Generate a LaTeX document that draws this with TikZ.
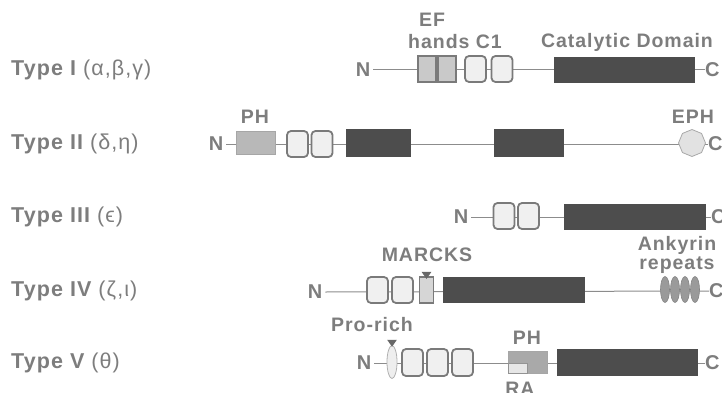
\documentclass[tikz,border=0pt]{standalone}
\usepackage{fontspec}
\setmainfont{Liberation Sans}
\usetikzlibrary{shapes.geometric,backgrounds}
\definecolor{txt}{HTML}{7D7D7D}
\definecolor{linegray}{HTML}{8C8C8C}
\definecolor{boxedge}{HTML}{7A7A7A}
\definecolor{eff}{HTML}{C9C9C9}
\definecolor{conef}{HTML}{F0F0F0}
\definecolor{catf}{HTML}{4D4D4D}
\definecolor{phf}{HTML}{B8B8B8}
\definecolor{ephf}{HTML}{E2E2E2}
\definecolor{ephe}{HTML}{A8A8A8}
\definecolor{ankf}{HTML}{9A9A9A}
\definecolor{prof}{HTML}{EEEEEE}
\definecolor{proe}{HTML}{B0B0B0}
\definecolor{raf}{HTML}{E6E6E6}
\definecolor{marf}{HTML}{D6D6D6}
\newfontfamily\labfont[LetterSpace=5]{Liberation Sans}
\tikzset{
  bb/.style={draw=linegray,line width=1pt},
  rowlab/.style={anchor=west,inner sep=0pt,text=txt,font=\labfont\fontsize{21.5}{24}\selectfont},
  dlab/.style={inner sep=0pt,text=txt,font=\labfont\bfseries\fontsize{19.5}{22}\selectfont},
  endlab/.style={inner sep=0pt,text=txt,font=\labfont\bfseries\fontsize{20}{22}\selectfont},
  efbox/.style={rectangle,inner sep=0pt,fill=eff,draw=boxedge,line width=1.6pt,minimum width=18pt,minimum height=26pt},
  conebox/.style={rectangle,rounded corners=4pt,inner sep=0pt,fill=conef,draw=boxedge,line width=1.8pt,minimum width=21pt,minimum height=26pt},
  catbox/.style={rectangle,inner sep=0pt,fill=catf,draw=catf,line width=0.8pt,minimum height=25pt},
  phbox/.style={rectangle,inner sep=0pt,fill=phf,draw=phf!90!black,line width=0.6pt,minimum width=39pt,minimum height=23pt},
  ephoct/.style={regular polygon,regular polygon sides=8,shape border rotate=22.5,inner sep=0pt,fill=ephf,draw=ephe,line width=0.8pt,minimum size=27pt},
  ankell/.style={ellipse,inner sep=0pt,fill=ankf,draw=ankf!85!black,line width=0.6pt,minimum width=9pt,minimum height=26pt},
  proell/.style={ellipse,inner sep=0pt,fill=prof,draw=proe,line width=0.8pt,minimum width=10pt,minimum height=33pt},
  marbox/.style={rectangle,inner sep=0pt,fill=marf,draw=boxedge,line width=1.5pt,minimum width=14pt,minimum height=26pt},
  pointer/.style={isosceles triangle,shape border rotate=-90,isosceles triangle apex angle=70,inner sep=0pt,fill=catf!85,minimum height=7pt,minimum width=9pt},
}
\begin{document}
\begin{tikzpicture}[x=1pt,y=-1pt]
\useasboundingbox (0,0) rectangle (722,393);
\clip (0,0) rectangle (722,393);
% ---------- row labels
\node[rowlab] (t1) at (11,70) {\bfseries Type I \mdseries(α,β,γ)};
\node[rowlab] (t2) at (11,144) {\bfseries Type II \mdseries(δ,η)};
\node[rowlab] (t3) at (11,217) {\bfseries Type III \mdseries(ϵ)};
\node[rowlab] (t4) at (11,291) {\bfseries Type IV \mdseries(ζ,ι)};
\node[rowlab] (t5) at (11,363) {\bfseries Type V \mdseries(θ)};
% ---------- Type I
\node[endlab] (n1) at (363,70) {N};
\node[efbox] (ef1) at (427,69) {};
\node[efbox] (ef2) at (447,69) {};
\node[conebox] (ca1) at (475.5,69) {};
\node[conebox] (cb1) at (502,69) {};
\node[catbox,minimum width=140pt] (cat1) at (624,69.5) {};
\node[endlab,anchor=west] (c1) at (705,70) {C};
\node[dlab] (efl) at (432,20) {EF};
\node[dlab] (hl) at (455,42) {hands C1};
\node[dlab] (catl) at (627,42) {Catalytic Domain};
\begin{pgfonlayer}{background}
\draw[bb] (n1.east) ++(3,0) -- (c1.west);
\end{pgfonlayer}
% ---------- Type II
\node[endlab] (n2) at (216,144) {N};
\node[phbox] (ph2) at (255.5,142.5) {};
\node[conebox] (ca2) at (297.5,144) {};
\node[conebox] (cb2) at (322,144) {};
\node[catbox,minimum width=64pt,minimum height=27pt] (d21) at (378,142.5) {};
\node[catbox,minimum width=69pt,minimum height=27pt] (d22) at (528.5,142.5) {};
\node[ephoct] (eph) at (692,143) {};
\node[endlab,anchor=west] (c2) at (708,144) {C};
\node[dlab] (phl2) at (255,117) {PH};
\node[dlab] (ephl) at (693,117) {EPH};
\begin{pgfonlayer}{background}
\draw[bb] (n2.east) ++(3,0) -- (c2.west);
\end{pgfonlayer}
% ---------- Type III
\node[endlab] (n3) at (461,217) {N};
\node[conebox] (ca3) at (504,216) {};
\node[conebox] (cb3) at (528.5,216) {};
\node[catbox,minimum width=141pt] (cat3) at (634.5,216.5) {};
\node[endlab,anchor=west] (c3) at (711,217) {C};
\begin{pgfonlayer}{background}
\draw[bb] (n3.east) ++(3,0) -- (c3.west);
\end{pgfonlayer}
% ---------- Type IV
\node[endlab] (n4) at (315,292) {N};
\node[conebox] (ca4) at (377.5,290) {};
\node[conebox] (cb4) at (402.5,290) {};
\node[marbox] (mar) at (426.5,290) {};
\node[catbox,minimum width=141pt] (cat4) at (513.5,289.5) {};
\node[ankell] (a1) at (665,289.5) {};
\node[ankell] (a2) at (675,289.5) {};
\node[ankell] (a3) at (685,289.5) {};
\node[ankell] (a4) at (695,289.5) {};
\node[endlab,anchor=west] (c4) at (709,291) {C};
\node[pointer,anchor=apex] (mp) at ([yshift=-3pt]mar.north) {};
\node[dlab] (marl) at (427,255) {MARCKS};
\node[dlab] (ankl) at (677,245) {Ankyrin};
\node[dlab] (repl) at (677,265) {repeats};
\begin{pgfonlayer}{background}
\draw[bb] (n4.east) ++(3,0) -- (c4.west);
\end{pgfonlayer}
% ---------- Type V
\node[endlab] (n5) at (364,363) {N};
\node[proell] (pro) at (392,362) {};
\node[conebox,minimum height=27pt] (ca5) at (412.5,362.5) {};
\node[conebox,minimum height=27pt] (cb5) at (437.5,362.5) {};
\node[conebox,minimum height=27pt] (cc5) at (462.5,362.5) {};
\node[phbox,fill=phf!92!black,minimum height=22pt] (ph5) at (527.5,362) {};
\node[rectangle,inner sep=0pt,fill=raf,draw=phf!80!black,line width=0.5pt,minimum width=19pt,minimum height=10pt,anchor=south west] (ra) at (ph5.south west) {};
\node[catbox,minimum width=140pt,minimum height=26pt] (cat5) at (627,362) {};
\node[endlab,anchor=west] (c5) at (705,363) {C};
\node[pointer,anchor=apex] (pp) at ([yshift=-2pt]pro.north) {};
\node[dlab] (prol) at (372,325) {Pro-rich};
\node[dlab] (phl5) at (527,338) {PH};
\node[dlab] (ral) at (520,389) {RA};
\begin{pgfonlayer}{background}
\draw[bb] (n5.east) ++(3,0) -- (c5.west);
\end{pgfonlayer}
\end{tikzpicture}
\end{document}
